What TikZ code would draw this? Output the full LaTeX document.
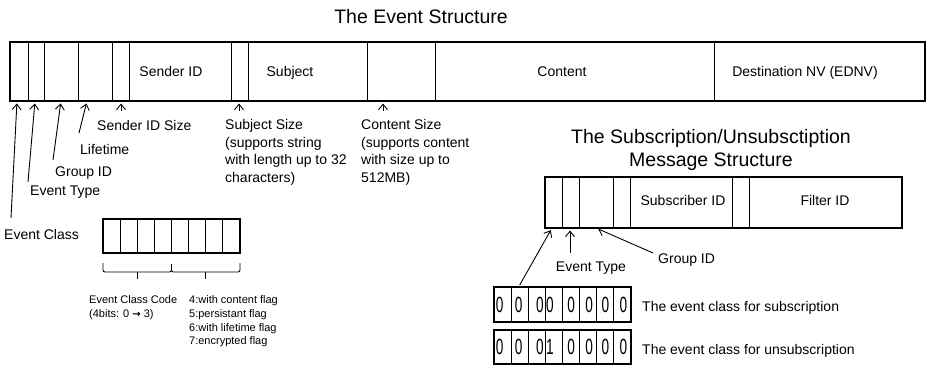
\documentclass[tikz,border=0pt]{standalone}
\usepackage{fontspec}
\setmainfont{Liberation Sans}
\newfontfamily\symfont{DejaVu Sans}
\usetikzlibrary{arrows.meta,calc}

\begin{document}
\begin{tikzpicture}[x=1pt,y=-1pt,
  frame/.style={line width=2pt},
  cellbox/.style={draw, line width=0.9pt, inner sep=0pt, outer sep=0pt, anchor=north west},
  lbl/.style={font=\fontsize{14}{17.7}\selectfont, inner sep=0pt, align=left},
  smalltxt/.style={font=\fontsize{11}{13.7}\selectfont, inner sep=0pt, align=left},
  heading/.style={font=\fontsize{19.5}{23}\selectfont, inner sep=0pt, align=center},
  pointer/.style={line width=0.9pt, -{Straight Barb[length=5.5pt,width=9pt,line width=0.9pt]}, shorten >=2.5pt},
  bracket/.style={line width=0.9pt, rounded corners=2pt},
  digit/.style={font=\fontsize{22}{22}\selectfont}
]
\useasboundingbox (0,0) rectangle (928,365);

% ---------- The event structure ----------
\node[heading] (title) at (421,17) {The Event Structure};

\foreach \x/\w [count=\i] in {10/18,28/16,44/34,78/34,112/17,129/102,231/17,248/119,367/68,435/279,714/211}
  \node[cellbox, minimum width=\w pt, minimum height=59pt] (e\i) at (\x,42) {};
\draw[frame] (e1.north west) rectangle (e11.south east);

\node[lbl, anchor=base] (tSender)  at (171,76) {Sender ID};
\node[lbl, anchor=base] (tSubject) at (290,76) {Subject};
\node[lbl, anchor=base] (tContent) at (562,76) {Content};
\node[lbl, anchor=base] (tDest)    at (805,76) {Destination NV (EDNV)};

% field annotations
\node[lbl, anchor=west] (lClass)    at (4,234)  {Event Class};
\node[lbl, anchor=west] (lType)     at (30,192) {Event Type};
\node[lbl, anchor=west] (lGroup)    at (55,173) {Group ID};
\node[lbl, anchor=west] (lLife)     at (80,149) {Lifetime};
\node[lbl, anchor=west] (lSidSize)  at (97,125) {Sender ID Size};
\node[lbl, anchor=north west] (lSubSize) at (225,119) {Subject Size\\(supports string\\with length up to 32\\characters)};
\node[lbl, anchor=north west] (lConSize) at (361,119) {Content Size\\(supports content\\with size up to\\512MB)};

\coordinate (pClass) at (11,218);
\coordinate (pType)  at (28,182);
\coordinate (pGroup) at (53,160);
\coordinate (pLife)  at (79,133);
\coordinate (pSid)   at (121,111);
\coordinate (pSub)   at (239,111);
\coordinate (pCon)   at (383,111);

\draw[pointer] (pClass) -- ([xshift=-2pt]e1.south);
\draw[pointer] (pType)  -- ([xshift=-1pt]e2.south);
\draw[pointer] (pGroup) -- (e3.south);
\draw[pointer] (pLife)  -- ([xshift=-8pt]e4.south);
\draw[pointer] (pSid)   -- (pSid |- e5.south);
\draw[pointer] (pSub)   -- (pSub |- e7.south);
\draw[pointer] (pCon)   -- (pCon |- e9.south);

% event class byte
\foreach \i in {1,...,8}
  \node[cellbox, minimum width=17.125pt, minimum height=34pt] (b\i) at ({103+(\i-1)*17.125},219) {};
\draw[frame] (b1.north west) rectangle (b8.south east);

\draw[bracket] ($(b1.south west)+(0,10)$) |- ($(b4.south east)+(0,19)$) -- ++(0,-8);
\draw[bracket] ($(b5.south west)+(0,11)$) |- ($(b8.south east)+(0,19)$) -- ++(0,-9);
\draw[line width=0.9pt] ($(b2.south east)+(0,19)$) -- ++(0,7);
\draw[line width=0.9pt] ($(b6.south east)+(0,19)$) -- ++(0,7);

\node[smalltxt, anchor=north west] (codeTxt) at (89,295.5) {Event Class Code\\(4bits: 0 {\symfont\fontsize{10}{10}\selectfont\bfseries →} 3)};
\node[smalltxt, anchor=north west] (flagTxt) at (189,295.5) {4:with content flag\\5:persistant flag\\6:with lifetime flag\\7:encrypted flag};

% ---------- The subscription / unsubscription message ----------
\node[heading, anchor=north] (subTitle) at (711,129.5) {The Subscription/Unsubsctiption\\Message Structure};

\foreach \x/\w [count=\i] in {545/17,562/17,579/34,613/17,630/102,732/17,749/153}
  \node[cellbox, minimum width=\w pt, minimum height=51pt] (s\i) at (\x,177) {};
\draw[frame] (s1.north west) rectangle (s7.south east);

\node[lbl, anchor=base] (tSubscriber) at (683,205) {Subscriber ID};
\node[lbl, anchor=base] (tFilter)     at (825,205) {Filter ID};

\node[lbl] (sType)  at (591,268) {Event Type};
\node[lbl, anchor=west] (sGroup) at (658,260) {Group ID};

% bit patterns
\foreach \d/\o [count=\i] in {0/-6,0/-2,0/6,0/-8,0/0,0/2,0/0,0/2}
  \node[cellbox, minimum width=17.125pt, minimum height=35pt, digit] (ra\i) at ({494+(\i-1)*17.125},287) {\hspace*{\o pt}\scalebox{0.62}[1]{\d}};
\draw[frame] (ra1.north west) rectangle (ra8.south east);

\foreach \d/\o [count=\i] in {0/-6,0/-2,0/6,1/-8,0/0,0/2,0/0,0/2}
  \node[cellbox, minimum width=17.125pt, minimum height=34pt, digit] (rb\i) at ({494+(\i-1)*17.125},330) {\hspace*{\o pt}\scalebox{0.62}[1]{\d}};
\draw[frame] (rb1.north west) rectangle (rb8.south east);

\node[lbl, anchor=west] (subTxt)   at (642,308) {The event class for subscription};
\node[lbl, anchor=west] (unsubTxt) at (642,351) {The event class for unsubscription};

\coordinate (qType)  at (570,253);
\coordinate (qGroup) at (653,253);
\draw[pointer] ([yshift=2pt]ra2.north) -- ([xshift=-1.5pt]s1.south);
\draw[pointer] (qType)  -- (qType |- s2.south);
\draw[pointer] (qGroup) -- (s3.south);
\end{tikzpicture}
\end{document}
